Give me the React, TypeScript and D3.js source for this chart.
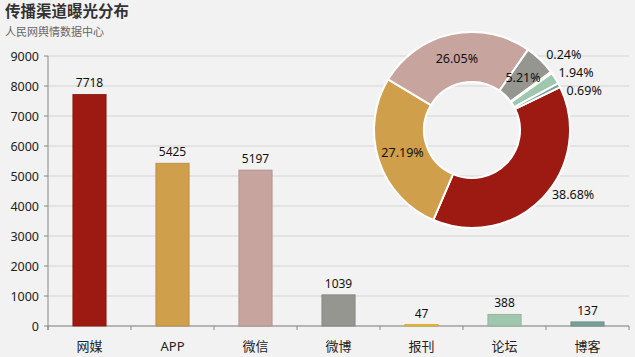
import React from "react";
import * as d3 from "d3";

const categories = ["网媒", "APP", "微信", "微博", "报刊", "论坛", "博客"];
const values = [7718, 5425, 5197, 1039, 47, 388, 137];
const colors = ["#9c1a12", "#d09f4c", "#c8a49e", "#969691", "#f0c030", "#9fc7ae", "#77a098"];
const yTicks = [0, 1000, 2000, 3000, 4000, 5000, 6000, 7000, 8000, 9000];
const title = "传播渠道曝光分布";
const subtitle = "人民网舆情数据中心";
// label placement for donut: "in" = centroid, "out" = outer ring, "side" = stacked side labels
const labelMode = ["out", "in", "in", "in", "side", "side", "side"];

const W = 635;
const H = 357;
const FONT = "'Noto Sans', 'Noto Sans CJK SC', sans-serif";

export default function App() {
  const margin = { left: 48, right: 6, top: 56, bottom: 31 };
  const x = d3
    .scaleBand<string>()
    .domain(categories)
    .range([margin.left, W - margin.right])
    .paddingInner(0.6)
    .paddingOuter(0.3);
  const xOuter = d3.scaleBand<string>().domain(categories).range([margin.left, W - margin.right]);
  const y = d3.scaleLinear().domain([0, 9000]).range([H - margin.bottom, margin.top]);

  // donut
  const cx = 472;
  const cy = 130;
  const rOuter = 98;
  const rInner = 48;
  const startA = (64 * Math.PI) / 180;
  const total = d3.sum(values);
  const pie = d3
    .pie<number>()
    .sort(null)
    .startAngle(startA)
    .endAngle(startA + 2 * Math.PI);
  const arcs = pie(values);
  const arcGen = d3.arc<d3.PieArcDatum<number>>().innerRadius(rInner).outerRadius(rOuter);
  const pct = (v: number) => ((v / total) * 100).toFixed(2) + "%";

  // side labels
  const sideIdx = arcs.map((_, i) => i).filter((i) => labelMode[i] === "side");
  const sideR = 110;
  const sideYs = sideIdx.map((i) => {
    const a = (arcs[i].startAngle + arcs[i].endAngle) / 2;
    return -sideR * Math.cos(a);
  });
  const meanY = d3.mean(sideYs) || 0;
  const gap = 18;
  const sorted = sideIdx
    .map((i, k) => ({ i, y0: sideYs[k] }))
    .sort((a, b) => a.y0 - b.y0);
  const sidePos: Record<number, [number, number]> = {};
  sorted.forEach((s, k) => {
    const yy = meanY + (k - (sorted.length - 1) / 2) * gap;
    const R = 119;
    const xx = Math.sqrt(Math.max(0, R * R - yy * yy));
    sidePos[s.i] = [xx, yy];
  });

  return (
    <svg width={W} height={H} style={{ position: "absolute", left: 0, top: 0, background: "#f2f2f2", fontFamily: FONT }}>
      <rect x={0} y={0} width={W} height={H} fill="#f2f2f2" />
      <text x={5} y={17} fontSize={15.5} fontWeight="bold" fill="#333">
        {title}
      </text>
      <text x={5} y={36} fontSize={11} fill="#666">
        {subtitle}
      </text>

      {/* grid */}
      {yTicks.map((t) => (
        <line key={"g" + t} x1={margin.left} x2={W - margin.right} y1={y(t)} y2={y(t)} stroke="#d4d4d4" strokeWidth={1} />
      ))}
      {/* y axis */}
      <line x1={margin.left} x2={margin.left} y1={y(9000)} y2={y(0) + 4} stroke="#888" />
      {yTicks.map((t) => (
        <g key={"t" + t}>
          <line x1={margin.left - 4} x2={margin.left} y1={y(t)} y2={y(t)} stroke="#888" />
          <text x={margin.left - 9} y={y(t) + 4.5} textAnchor="end" fontSize={12.5} fill="#222">
            {t}
          </text>
        </g>
      ))}
      {/* x axis */}
      <line x1={margin.left} x2={W - margin.right} y1={y(0)} y2={y(0)} stroke="#888" />
      {categories.map((c) => (
        <line key={"xt" + c} x1={xOuter(c)!} x2={xOuter(c)!} y1={y(0)} y2={y(0) + 4} stroke="#888" />
      ))}
      <line x1={W - margin.right} x2={W - margin.right} y1={y(0)} y2={y(0) + 4} stroke="#888" />
      {categories.map((c) => (
        <text key={"xl" + c} x={x(c)! + x.bandwidth() / 2} y={351} textAnchor="middle" fontSize={13} fill="#222">
          {c}
        </text>
      ))}

      {/* bars */}
      {values.map((v, i) => (
        <g key={"b" + i}>
          <rect
            x={x(categories[i])!}
            y={y(v)}
            width={x.bandwidth()}
            height={y(0) - y(v)}
            fill={colors[i]}
            stroke={d3.color(colors[i])!.darker(0.4).toString()}
            strokeWidth={0.8}
          />
          <text x={x(categories[i])! + x.bandwidth() / 2} y={y(v) - 7} textAnchor="middle" fontSize={12} fill="#111">
            {v}
          </text>
        </g>
      ))}

      {/* donut */}
      <g transform={`translate(${cx},${cy})`}>
        {arcs.map((a, i) => (
          <path key={"a" + i} d={arcGen(a) || ""} fill={colors[i]} stroke="#fff" strokeWidth={2} />
        ))}
        {arcs.map((a, i) => {
          const mid = (a.startAngle + a.endAngle) / 2;
          let px = 0;
          let py = 0;
          if (labelMode[i] === "in") {
            const c = arcGen.centroid(a);
            px = c[0];
            py = c[1];
          } else if (labelMode[i] === "out") {
            const ang = mid - (11 * Math.PI) / 180;
            px = 120 * Math.sin(ang);
            py = -120 * Math.cos(ang);
          } else {
            [px, py] = sidePos[i];
          }
          return (
            <text key={"l" + i} x={px} y={py + 4.5} textAnchor="middle" fontSize={12.5} fill="#111">
              {pct(a.value)}
            </text>
          );
        })}
      </g>
    </svg>
  );
}
